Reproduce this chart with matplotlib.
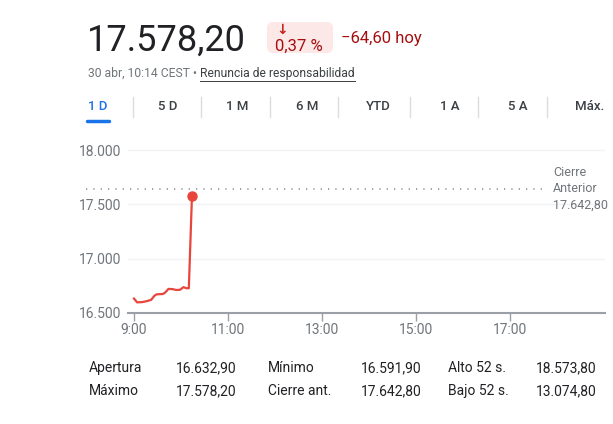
import matplotlib.pyplot as plt
from matplotlib.patches import FancyBboxPatch
from matplotlib.lines import Line2D

plt.rcParams['font.family'] = ['Roboto', 'DejaVu Sans']

# intraday data (hours since midnight, index level)
times = [9.0, 9 + 4/60, 9 + 10/60, 9 + 17/60, 9 + 22/60, 9 + 26/60, 9 + 29/60,
         9 + 37/60, 9 + 40/60, 9 + 44/60, 9 + 49/60, 9 + 54/60, 9 + 59/60,
         10 + 3/60, 10 + 7/60, 10 + 10/60, 10 + 14/60]
values = [16632.9, 16598, 16600, 16610, 16622, 16658, 16672,
          16675, 16690, 16722, 16720, 16712, 16714,
          16738, 16728, 16728, 17578.2]
prev_close = 17642.8
yticks = [16500, 17000, 17500, 18000]
ytick_labels = ['16.500', '17.000', '17.500', '18.000']
xticks = [9, 11, 13, 15, 17]
xtick_labels = ['9:00', '11:00', '13:00', '15:00', '17:00']
tabs = ['1 D', '5 D', '1 M', '6 M', 'YTD', '1 A', '5 A', 'Máx.']
stat_labels = [['Apertura', 'Mínimo', 'Alto 52 s.'], ['Máximo', 'Cierre ant.', 'Bajo 52 s.']]
stat_values = [['16.632,90', '16.591,90', '18.573,80'], ['17.578,20', '17.642,80', '13.074,80']]

W, H = 613, 424
fig = plt.figure(figsize=(W / 100, H / 100), dpi=100)

def fx(x): return x / W
def fy(y): return 1 - y / H

DARK = '#202124'
GRAY = '#70757a'
RED = '#e8453c'

# header
fig.text(fx(87), fy(51), '17.578,20', fontsize=26, color=DARK, va='baseline')
badge = FancyBboxPatch((267 / 100, (H - 53) / 100), 66 / 100, 31 / 100,
                       boxstyle='round,pad=0,rounding_size=0.06',
                       transform=fig.dpi_scale_trans, fc='#fce8e6', ec='none')
fig.patches.append(badge)
fig.text(fx(282), fy(30), '↓', fontsize=10, color='#c5221f', ha='center', va='center',
         weight='bold', family=['DejaVu Sans'])
fig.text(fx(275), fy(46), '0,37 %', fontsize=12, color='#a50e0e', va='center')
fig.text(fx(341), fy(38), '−64,60 hoy', fontsize=12, color='#a50e0e', va='center')

t1 = fig.text(fx(88), fy(73), '30 abr, 10:14 CEST • ', fontsize=8.7, color=GRAY, va='center')
fig.canvas.draw()
bb = t1.get_window_extent()
t2 = fig.text(bb.x1 / W, fy(73), 'Renuncia de responsabilidad', fontsize=8.7, color='#3c4043',
              va='center')
fig.canvas.draw()
bb2 = t2.get_window_extent()
fig.lines.append(Line2D([bb2.x0 / W, bb2.x1 / W], [fy(80.5), fy(80.5)], transform=fig.transFigure,
                        color='#3c4043', lw=0.7))

# period tabs
tab_x = [98, 168, 237, 307, 378, 450, 518, 590]
for i, (lab, x) in enumerate(zip(tabs, tab_x)):
    fig.text(fx(x), fy(107), lab, fontsize=9.5, ha='center', va='center', weight='medium',
             color='#1a73e8' if i == 0 else '#3c4043')
for x in [133, 201, 270, 338, 410, 478, 547]:
    fig.lines.append(Line2D([fx(x), fx(x)], [fy(97), fy(117)], transform=fig.transFigure,
                            color='#dadce0', lw=1))
fig.lines.append(Line2D([fx(87), fx(109)], [fy(121), fy(121)], transform=fig.transFigure,
                        color='#1a73e8', lw=2.5, solid_capstyle='round'))

# chart
ax = fig.add_axes([fx(128), fy(313), fx(605) - fx(128), fy(140) - fy(313)])
ax.set_xlim(9 - 6 / 47, 9 + 471 / 47)
ax.set_ylim(16500, 16500 + 173 / 54.3 * 500)
for s in ['top', 'right', 'left']:
    ax.spines[s].set_visible(False)
ax.spines['bottom'].set_color('#9aa0a6')
ax.spines['bottom'].set_linewidth(1.5)
ax.set_yticks(yticks)
ax.set_yticklabels(ytick_labels)
ax.tick_params(axis='y', length=0, pad=5, labelsize=10, labelcolor=GRAY)
ax.set_xticks(xticks)
ax.set_xticklabels(xtick_labels)
ax.tick_params(axis='x', length=6, width=1, color='#9aa0a6', pad=1, labelsize=10,
               labelcolor=GRAY)
for yv in yticks[1:]:
    ax.axhline(yv, color='#f1f3f4', lw=1, zorder=0)

ax.hlines(prev_close, (86 - 128) / 477, (545 - 128) / 477, transform=ax.get_yaxis_transform(),
          colors='#80868b', lw=1.1, linestyles=(0, (0.8, 4)), clip_on=False)
for y, s in zip([172, 188, 205], ['Cierre', 'Anterior', '17.642,80']):
    fig.text(fx(553), fy(y), s, fontsize=9, color=GRAY, va='center')

ax.plot(times, values, color=RED, lw=1.6)
ax.plot(times[-1], values[-1], 'o', color=RED, ms=6.5)

# stats table
col_x = [89, 176, 268, 361, 448, 536]
for r, y in enumerate([368, 391]):
    for c in range(3):
        fig.text(fx(col_x[2 * c]), fy(y), stat_labels[r][c], fontsize=10, color=DARK, va='center')
        fig.text(fx(col_x[2 * c + 1]), fy(y), stat_values[r][c], fontsize=10, color=DARK,
                 va='center')

fig.savefig('out.png', dpi=100)
